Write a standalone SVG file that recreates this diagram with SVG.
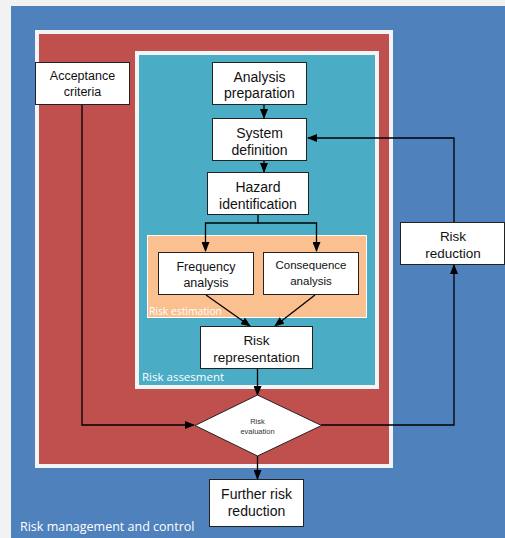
<svg xmlns="http://www.w3.org/2000/svg" width="505" height="538" viewBox="0 0 505 538">
<defs>
<marker id="ah" markerWidth="10" markerHeight="8" refX="9" refY="4" orient="auto" markerUnits="userSpaceOnUse">
<path d="M0,0 L10,4 L0,8 Z" fill="#000"/>
</marker>
<style>
.box{fill:#fff;stroke:#222;stroke-width:1}
.t{font-family:"Liberation Sans",Arial,sans-serif;fill:#111;text-anchor:middle}
.lbl{font-family:"Open Sans","Noto Sans",sans-serif;fill:#fff}
.c{fill:none;stroke:#000;stroke-width:1.3}
</style>
</defs>
<rect x="0" y="0" width="505" height="538" fill="#f2f2f2"/>
<g id="risk-management">
<rect x="11" y="6" width="494" height="532" fill="#4F81BD"/>
<text class="lbl" x="20" y="531" font-size="12.5">Risk management and control</text>
</g>
<g id="red-region">
<rect x="37" y="32" width="354" height="434" fill="#C0504D" stroke="#f4f4f4" stroke-width="4"/>
</g>
<g id="risk-assessment">
<rect x="137" y="53" width="240" height="334" fill="#4BACC6" stroke="#f4f4f4" stroke-width="4"/>
<text class="lbl" x="142" y="381" font-size="11.5">Risk assesment</text>
</g>
<g id="risk-estimation">
<rect x="147.5" y="235.5" width="219" height="82" fill="#FAC090" stroke="#fff" stroke-width="1"/>
<text class="lbl" x="149" y="315" font-size="10.3">Risk estimation</text>
</g>
<g id="connectors">
<polyline class="c" points="82,104 82,425 194,425" marker-end="url(#ah)"/>
<line class="c" x1="264" y1="104" x2="264" y2="118" marker-end="url(#ah)"/>
<line class="c" x1="264" y1="160" x2="264" y2="172" marker-end="url(#ah)"/>
<polyline class="c" points="258,214 258,223 205.5,223 205.5,251" marker-end="url(#ah)"/>
<polyline class="c" points="258,223 316.5,223 316.5,251" marker-end="url(#ah)"/>
<line class="c" x1="206" y1="295" x2="250" y2="326" marker-end="url(#ah)"/>
<line class="c" x1="315" y1="295" x2="275" y2="326" marker-end="url(#ah)"/>
<line class="c" x1="257.5" y1="369" x2="257.5" y2="395" marker-end="url(#ah)"/>
<line class="c" x1="257.5" y1="456" x2="257.5" y2="479" marker-end="url(#ah)"/>
<polyline class="c" points="321,425 454,425 454,265" marker-end="url(#ah)"/>
<polyline class="c" points="454,222 454,138 308,138" marker-end="url(#ah)"/>
</g>
<g id="acceptance-criteria">
<rect class="box" x="35.5" y="62.5" width="94" height="42"/>
<text class="t" x="82.5" y="80" font-size="12.5">Acceptance</text>
<text class="t" x="82.5" y="96" font-size="12.5">criteria</text>
</g>
<g id="analysis-preparation">
<rect class="box" x="212.5" y="62.5" width="94" height="42"/>
<text class="t" x="259.5" y="82" font-size="14">Analysis</text>
<text class="t" x="259.5" y="98" font-size="14">preparation</text>
</g>
<g id="system-definition">
<rect class="box" x="212.5" y="118.5" width="94" height="42"/>
<text class="t" x="259.5" y="138" font-size="14">System</text>
<text class="t" x="259.5" y="155" font-size="14">definition</text>
</g>
<g id="hazard-identification">
<rect class="box" x="207.5" y="172.5" width="101" height="42"/>
<text class="t" x="258" y="192" font-size="14">Hazard</text>
<text class="t" x="258" y="209" font-size="14">identification</text>
</g>
<g id="frequency-analysis">
<rect class="box" x="158.5" y="252.5" width="95" height="42"/>
<text class="t" x="206" y="271" font-size="12.5">Frequency</text>
<text class="t" x="206" y="287" font-size="12.5">analysis</text>
</g>
<g id="consequence-analysis">
<rect class="box" x="263.5" y="252.5" width="95" height="42"/>
<text class="t" x="311" y="269" font-size="11.5">Consequence</text>
<text class="t" x="311" y="285" font-size="11.5">analysis</text>
</g>
<g id="risk-representation">
<rect class="box" x="200.5" y="326.5" width="112" height="42"/>
<text class="t" x="256.5" y="345" font-size="13.5">Risk</text>
<text class="t" x="256.5" y="362" font-size="13.5">representation</text>
</g>
<g id="risk-evaluation">
<polygon class="box" points="257.5,395 321.5,425.5 257.5,456 195,425.5"/>
<text class="t" x="257.5" y="424" font-size="7.5" style="fill:#333">Risk</text>
<text class="t" x="257.5" y="434" font-size="7.5" style="fill:#333">evaluation</text>
</g>
<g id="risk-reduction">
<rect class="box" x="400.5" y="222.5" width="104" height="42"/>
<text class="t" x="453" y="241" font-size="13.5">Risk</text>
<text class="t" x="453" y="258" font-size="13.5">reduction</text>
</g>
<g id="further-risk-reduction">
<rect class="box" x="209.5" y="479.5" width="94" height="47"/>
<text class="t" x="256.5" y="499" font-size="14">Further risk</text>
<text class="t" x="256.5" y="516" font-size="14">reduction</text>
</g>
</svg>
